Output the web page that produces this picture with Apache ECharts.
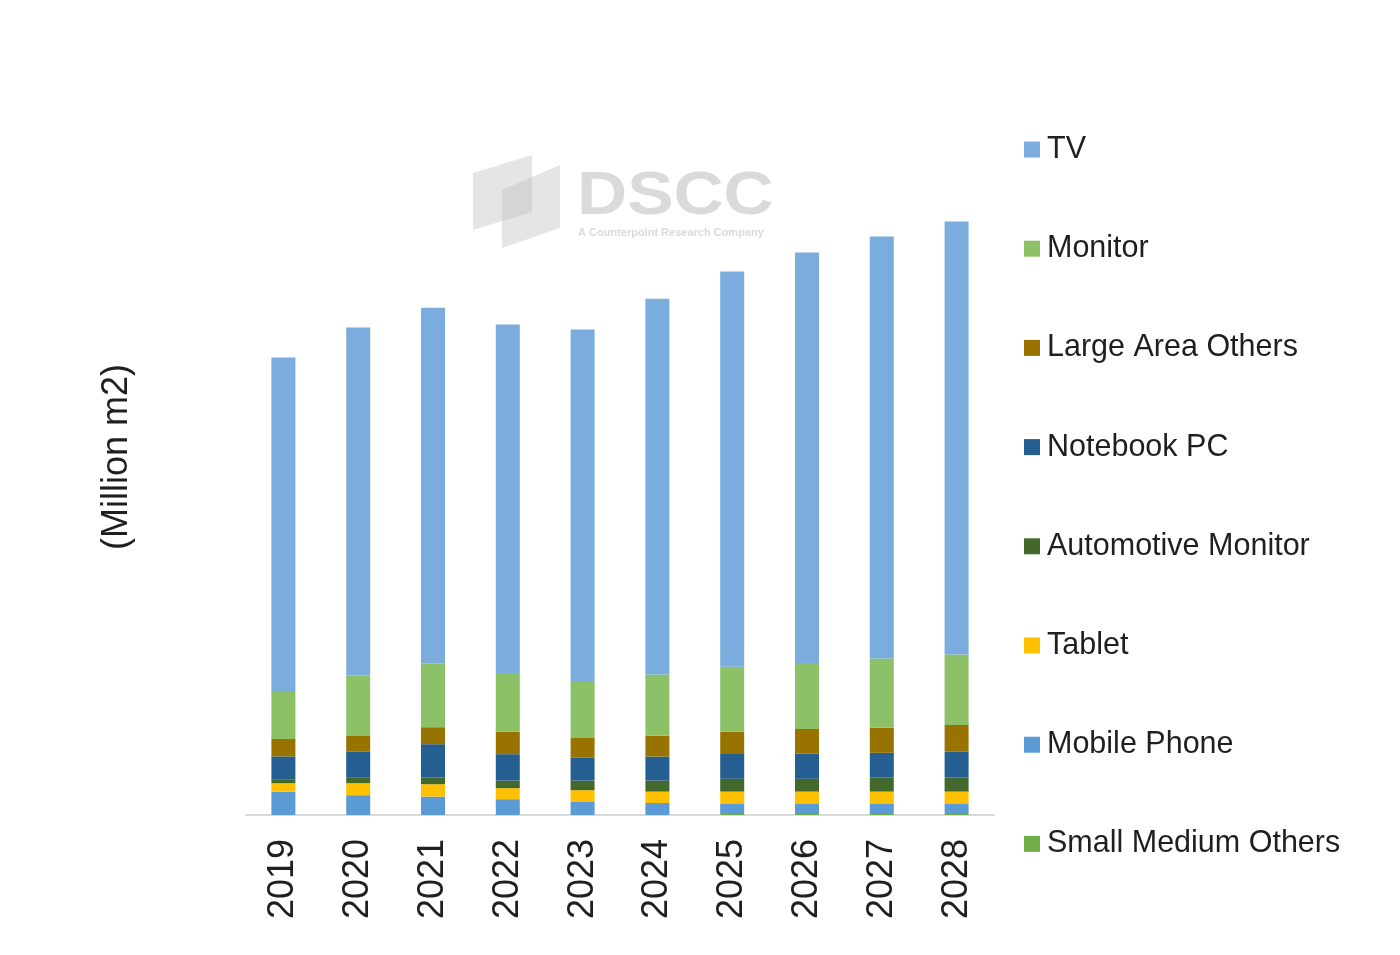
<!DOCTYPE html>
<html>
<head>
<meta charset="utf-8">
<script src="https://cdn.jsdelivr.net/npm/echarts@6/dist/echarts.min.js"></script>
<style>
html,body{margin:0;padding:0;background:#fff;}
#chart{width:1400px;height:955px;}
</style>
</head>
<body>
<div id="chart"></div>
<script>
const years = ['2019','2020','2021','2022','2023','2024','2025','2026','2027','2028'];
const smallMediumOthers = [0, 0, 0, 0, 0, 0, 0.5, 0.5, 0.5, 0.5];
const mobilePhone = [11.7, 9.9, 9.2, 7.9, 6.5, 6.0, 5.0, 5.0, 5.0, 5.0];
const tablet = [4.2, 6.0, 6.2, 5.5, 5.9, 5.7, 6.2, 6.2, 6.2, 6.2];
const automotiveMonitor = [2.0, 2.7, 3.3, 3.8, 4.8, 5.5, 6.4, 6.4, 7.0, 7.0];
const notebookPC = [11.4, 13.2, 16.7, 13.2, 11.4, 12.0, 12.4, 12.5, 12.4, 12.9];
const largeAreaOthers = [8.7, 8.0, 8.5, 11.2, 9.9, 10.5, 11.2, 12.4, 12.5, 13.4];
const monitor = [23.5, 29.9, 32.0, 29.4, 28.0, 30.5, 32.4, 33.0, 34.7, 35.2];
const tv = [167.2, 174.0, 177.7, 174.2, 176.2, 187.9, 197.7, 205.2, 210.9, 216.5];

const seriesDefs = [
  {name: 'Small Medium Others', data: smallMediumOthers, color: '#70ad47'},
  {name: 'Mobile Phone', data: mobilePhone, color: '#5b9bd5'},
  {name: 'Tablet', data: tablet, color: '#ffc000'},
  {name: 'Automotive Monitor', data: automotiveMonitor, color: '#43682b'},
  {name: 'Notebook PC', data: notebookPC, color: '#255e91'},
  {name: 'Large Area Others', data: largeAreaOthers, color: '#997300'},
  {name: 'Monitor', data: monitor, color: '#8cc168'},
  {name: 'TV', data: tv, color: '#7aaddd'}
];
const legendOrder = ['TV','Monitor','Large Area Others','Notebook PC','Automotive Monitor','Tablet','Mobile Phone','Small Medium Others'];

const FONT = '"Liberation Sans", Arial, sans-serif';
const chart = echarts.init(document.getElementById('chart'), null, {renderer: 'canvas'});
chart.setOption({
  animation: false,
  backgroundColor: '#ffffff',
  textStyle: {fontFamily: FONT},
  grid: {left: 246, right: 406, top: 115, bottom: 140, containLabel: false},
  legend: {
    orient: 'vertical',
    left: 1024,
    top: 134,
    padding: 0,
    itemWidth: 16,
    itemHeight: 16,
    itemGap: 68.2,
    icon: 'rect',
    data: legendOrder,
    textStyle: {fontSize: 30.5, color: '#1f1f1f', fontFamily: FONT, lineHeight: 30, padding: [0,0,0,2]}
  },
  xAxis: {
    type: 'category',
    data: years,
    axisLine: {lineStyle: {color: '#d9d9d9', width: 2}},
    axisTick: {show: false},
    axisLabel: {rotate: 90, fontSize: 36, color: '#1f1f1f', margin: 24, fontFamily: FONT}
  },
  yAxis: {
    type: 'value',
    min: 0,
    max: 350,
    show: false,
    splitLine: {show: false}
  },
  graphic: [
    {type: 'polygon', z: 0, shape: {points: [[473,173],[532,155],[532,212],[473,230]]}, style: {fill: '#bfbfbf', opacity: 0.4}},
    {type: 'polygon', z: 0, shape: {points: [[502,190],[560,165],[560,228],[502,248]]}, style: {fill: '#bfbfbf', opacity: 0.4}},
    {type: 'text', z: 0, x: 577, y: 166, scaleX: 1.12, style: {text: 'DSCC', fontSize: 62, fontWeight: 'bold', fill: '#dadada', fontFamily: FONT}},
    {type: 'text', z: 0, x: 578, y: 227, style: {text: 'A Counterpoint Research Company', fontSize: 11, fontWeight: 'bold', fill: '#dadada', fontFamily: FONT}},
    {type: 'text', x: 99, y: 457, rotation: Math.PI/2, style: {text: '(Million m2)', fontSize: 36, fill: '#1f1f1f', fontFamily: FONT, align: 'center', verticalAlign: 'top'}}
  ],
  series: seriesDefs.map(s => ({
    name: s.name,
    type: 'bar',
    stack: 'total',
    barWidth: 24,
    data: s.data,
    itemStyle: {color: s.color},
    emphasis: {disabled: true}
  }))
});
</script>
</body>
</html>
